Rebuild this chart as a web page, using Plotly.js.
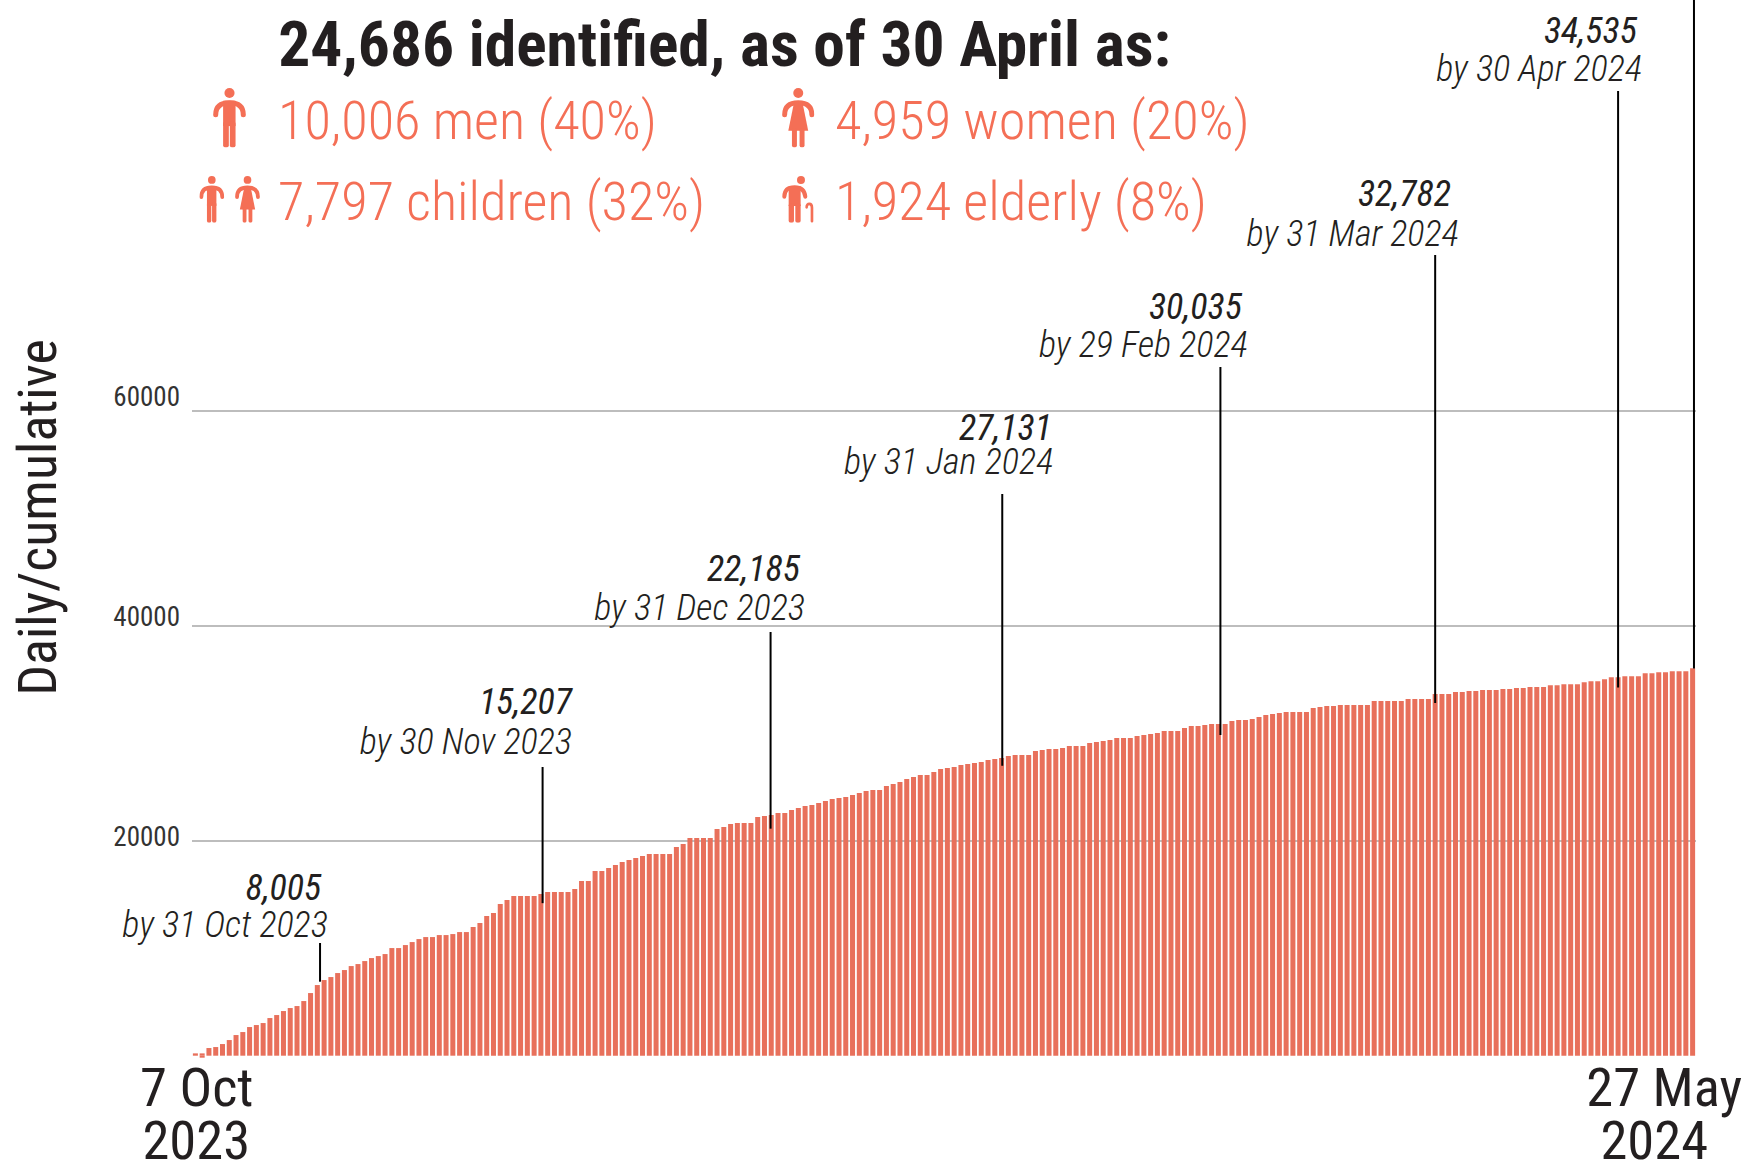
<!DOCTYPE html>
<html>
<head>
<meta charset="utf-8">
<script src="https://cdn.plot.ly/plotly-3.0.1.min.js"></script>
<style>
html,body{margin:0;padding:0;background:#fff;overflow:hidden;width:1745px;height:1161px}
#chart{position:absolute;left:0;top:-24px;width:1745px;height:1185px}
.main-svg text{font-stretch:75%}
</style>
</head>
<body>
<div id="chart"></div>
<script>
const dailyCumulative = [217,217,713,806,1085,1457,1922,2201,2666,2852,3038,3503,3782,4154,4433,4619,5084,5828,6572,7037,
7316,7688,7967,8339,8525,8804,9083,9269,9455,10013,10013,10292,10571,10850,11036,11036,11222,11222,11315,11501,
11501,11966,12338,12989,13268,14105,14477,14849,14849,14849,14849,15035,15221,15221,15221,15221,15500,16244,16244,17174,
17174,17453,17732,18011,18197,18383,18569,18755,18755,18755,18755,19406,19685,20243,20243,20243,20243,21080,21266,21545,
21638,21638,21638,22196,22289,22382,22568,22568,22847,23033,23219,23312,23498,23684,23870,23963,24056,24242,24428,24614,
24707,24707,25079,25265,25451,25730,25916,26102,26102,26381,26660,26753,26846,27032,27125,27218,27311,27497,27590,27683,
27869,27962,27962,27962,28334,28427,28520,28520,28613,28799,28799,28799,29078,29171,29264,29357,29543,29543,29543,29729,
29822,29915,30008,30194,30194,30194,30473,30659,30659,30752,30845,30845,30845,31124,31217,31217,31310,31496,31682,31775,
31868,31961,31961,31961,31961,32333,32426,32519,32519,32612,32612,32612,32612,32612,32984,32984,32984,32984,32984,33170,
33170,33170,33170,33635,33635,33635,33821,33821,33914,33914,34007,34007,34007,34100,34100,34193,34193,34286,34286,34286,
34472,34472,34565,34565,34565,34751,34844,34844,35030,35216,35216,35309,35309,35309,35588,35588,35681,35681,35774,35774,
35774,36053];
const reportIndex = dailyCumulative.map((_, i) => i);
const belowBaselineIndex = [1];
const belowBaselineValue = [-186];

const leaderX = [18.4,51.25,84.9,119.1,151.3,183,210,221.2];
const leaderBottom = [6884,14190,21120,26980,29840,32810,34260,36030];
const leaderTop = [10484,26855,39413,52250,64065,74480,89740,100437];

const monthTotals = ["8,005","15,207","22,185","27,131","30,035","32,782","34,535"];
const monthDates = ["by 31 Oct 2023","by 30 Nov 2023","by 31 Dec 2023","by 31 Jan 2024","by 29 Feb 2024","by 31 Mar 2024","by 30 Apr 2024"];
const totalRight = [323,574,801,1053,1243,1452,1638];
const totalMiddle = [888,702,569,428,307,194,31];
const dateRight = [329,573,806,1054,1249,1460,1643];
const dateMiddle = [924,741,607,462,344,234,69];

const statTexts = ["10,006 men (40%)","4,959 women (20%)","7,797 children (32%)","1,924 elderly (8%)"];
const statLeft = [277,834,277,834];
const statMiddle = [120,120,201,201];

const xTickVals = [0.2,216.8];
const xTickText = ["7 Oct","27 May"];
const yearText = ["2023","2024"];
const yearCentre = [196,1654];
const yearMiddle = [1140,1140];
const gridVals = [20000,40000,60000];
const yTickLabels = ["20000","40000","60000"];

const W = 1745, H = 1185, OFFSET = 24;
const ML = 192, MR = 49, MB = 102;
const PW = W - ML - MR, PH = H - MB;
const px = v => (v - ML) / PW;
const py = v => 1 - (v + OFFSET) / PH;
const FONT = "Roboto, 'Liberation Sans Narrow', sans-serif";
const DARK = "#231f20", CORAL = "#f46f56", BAR = "#e8705b";

function pageText(text, x, y, xanchor, font) {
  return {text, x: px(x), y: py(y), xref: "paper", yref: "paper", xanchor, yanchor: "middle",
    showarrow: false, align: xanchor, font, borderpad: 0};
}
const annotations = [];
monthTotals.forEach((t, i) => annotations.push(pageText(t, totalRight[i], totalMiddle[i], "right",
  {family: FONT, size: 36, color: DARK, style: "italic", weight: 400})));
monthDates.forEach((t, i) => annotations.push(pageText(t, dateRight[i], dateMiddle[i], "right",
  {family: FONT, size: 36.3, color: DARK, style: "italic", weight: 300})));
statTexts.forEach((t, i) => annotations.push(pageText(t, statLeft[i], statMiddle[i], "left",
  {family: FONT, size: 54.3, color: CORAL, weight: 300})));
yearText.forEach((t, i) => annotations.push(pageText(t, yearCentre[i], yearMiddle[i], "center",
  {family: FONT, size: 54.5, color: DARK, weight: 400})));

const leaders = leaderX.map((x, i) => ({type: "line", xref: "x", yref: "y", x0: x, x1: x,
  y0: leaderBottom[i], y1: leaderTop[i], line: {color: "#000", width: 2}}));

function svg(w, h, body) {
  return "data:image/svg+xml;utf8," + encodeURIComponent(
    `<svg xmlns="http://www.w3.org/2000/svg" viewBox="0 0 ${w} ${h}" width="${w}" height="${h}" fill="${CORAL}">${body}</svg>`);
}
const ARMS = `<path d="M8 80 C8 56 22 44 49 44 C76 44 90 56 90 80" fill="none" stroke="${CORAL}" stroke-width="15" stroke-linecap="round"/>`;
const manIcon = svg(98, 178, `<circle cx="49" cy="15" r="15"/>${ARMS}<rect x="30" y="38" width="37" height="76"/><rect x="30" y="100" width="17" height="78" rx="7"/><rect x="50" y="100" width="17" height="78" rx="7"/>`);
const womanIcon = svg(98, 178, `<circle cx="49" cy="15" r="15"/>${ARMS}<path d="M37 40 L61 40 L79 128 L19 128 Z"/><rect x="30" y="120" width="15" height="58" rx="6.5"/><rect x="53" y="120" width="15" height="58" rx="6.5"/>`);
const elderIcon = svg(97, 140, `<circle cx="57" cy="12" r="12"/><path d="M7 62 C7 42 18 34 38 34 C58 34 68 42 70 62" fill="none" stroke="${CORAL}" stroke-width="12" stroke-linecap="round"/><rect x="20" y="30" width="36" height="60"/><rect x="20" y="82" width="16" height="58" rx="6"/><rect x="40" y="82" width="16" height="58" rx="6"/><path d="M74 94 C74 80 90 80 90 95 L90 136" fill="none" stroke="${CORAL}" stroke-width="8" stroke-linecap="round"/>`);

const iconSrc = [manIcon, womanIcon, manIcon, womanIcon, elderIcon];
const iconBox = [[213,88,33,59.5],[782,88,32.5,59.5],[199.3,176,25,46.7],[235,176,25,46.7],[782,176,32.3,46.7]];
const images = iconSrc.map((source, i) => ({source, xref: "paper", yref: "paper",
  x: px(iconBox[i][0]), y: py(iconBox[i][1]), sizex: iconBox[i][2] / PW, sizey: iconBox[i][3] / PH,
  xanchor: "left", yanchor: "top", sizing: "stretch", layer: "above"}));

const traces = [
  {type: "bar", x: reportIndex, y: dailyCumulative, marker: {color: BAR, line: {width: 0}}, hoverinfo: "y"},
  {type: "bar", x: belowBaselineIndex, y: belowBaselineValue, marker: {color: BAR, line: {width: 0}}, hoverinfo: "skip"},
  {type: "scatter", mode: "none", x: [0], y: [0], yaxis: "y2", hoverinfo: "skip"}
];

const layout = {
  width: W, height: H, autosize: false,
  margin: {l: ML, r: MR, t: 0, b: MB, pad: 0},
  paper_bgcolor: "#fff", plot_bgcolor: "#fff",
  showlegend: false, barmode: "relative", bargap: 0.26,
  font: {family: FONT, color: DARK},
  title: {text: "<b>24,686 identified, as of 30 April as:</b>", x: 724.5 / W, xanchor: "center",
    xref: "container", yref: "container", y: 1 - (44 + OFFSET) / H, yanchor: "middle",
    font: {family: FONT, size: 63.5, color: DARK, weight: 700}},
  xaxis: {range: [-0.5, 221.5], tickmode: "array", tickvals: xTickVals, ticktext: xTickText, tickangle: 0,
    showgrid: false, zeroline: false, showline: false, ticks: "", ticklabelstandoff: -9, ticklabeloverflow: "allow",
    tickfont: {family: FONT, size: 54.5, color: DARK}, automargin: false, fixedrange: true},
  yaxis: {range: [-307, 100437], tickmode: "array", tickvals: gridVals, showticklabels: false,
    showgrid: true, gridcolor: "#bdbdbd", gridwidth: 2, zeroline: false, showline: false, ticks: "",
    title: {text: "Daily/cumulative", standoff: 117, font: {family: FONT, size: 54, color: DARK}},
    automargin: false, fixedrange: true},
  yaxis2: {overlaying: "y", side: "left", range: [-249, 98295], tickmode: "array", tickvals: gridVals, ticktext: yTickLabels,
    showgrid: false, zeroline: false, showline: false, ticks: "", ticklabelstandoff: 11,
    tickfont: {family: FONT, size: 27, color: "#333"}, automargin: false, fixedrange: true},
  annotations, shapes: leaders, images
};
Plotly.newPlot("chart", traces, layout, {displayModeBar: false, staticPlot: true});
</script>
</body>
</html>
